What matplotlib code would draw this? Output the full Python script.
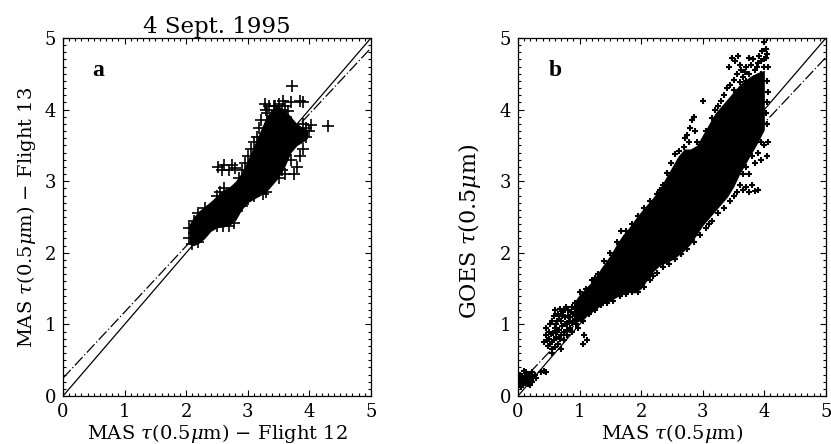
import matplotlib
matplotlib.use("Agg")
import matplotlib.pyplot as plt
from matplotlib.ticker import MultipleLocator

plt.rcParams['font.family'] = ['DejaVu Serif']
plt.rcParams['mathtext.fontset'] = 'dejavuserif'

# ---------------- data: panel a (Flight 12 vs Flight 13) ----------------
a_band_x = [2.05, 2.12, 2.2, 2.3, 2.4, 2.5, 2.6, 2.7, 2.8, 2.9, 3.0, 3.1, 3.2,
            3.3, 3.4, 3.5, 3.6, 3.7, 3.8, 3.9, 3.97]
a_band_lo = [2.12, 2.1, 2.13, 2.2, 2.3, 2.35, 2.36, 2.38, 2.45, 2.6, 2.7, 2.75,
             2.8, 2.85, 2.95, 3.05, 3.2, 3.4, 3.5, 3.55, 3.6]
a_band_hi = [2.4, 2.5, 2.58, 2.65, 2.72, 2.8, 2.88, 2.92, 3.0, 3.12, 3.3, 3.5,
             3.7, 3.9, 4.02, 4.05, 4.0, 3.9, 3.8, 3.75, 3.72]
a_pts_x = [2.05, 2.1, 2.2, 2.05, 2.12, 2.2, 2.3, 2.35, 2.45, 2.5, 2.6, 2.7, 2.78,
           2.5, 2.55, 2.62, 2.52, 2.58, 2.62, 2.7, 2.75, 2.8, 2.85, 2.9, 2.95,
           3.0, 3.05, 3.1, 3.15, 3.18, 3.22, 3.3, 3.35, 3.4, 3.45, 3.5, 3.55,
           3.6, 3.65, 3.7, 3.72, 3.85, 3.9, 3.95, 4.0, 3.9, 4.3, 2.9, 3.0, 3.1,
           3.2, 3.25, 3.3, 3.35, 3.5, 3.55, 3.6, 3.7, 3.75, 3.8, 3.85, 3.9, 3.2,
           3.28, 3.32, 3.42, 3.48, 3.62, 3.68, 3.58, 4.02, 3.95]
a_pts_y = [2.2, 2.12, 2.15, 2.35, 2.45, 2.55, 2.62, 2.55, 2.45, 2.38, 2.38, 2.38, 2.42,
           2.8, 2.85, 2.9, 3.2, 3.15, 3.22, 3.15, 3.22, 3.18, 3.05, 3.15, 3.25,
           3.35, 3.45, 3.55, 3.62, 3.75, 3.85, 4.0, 4.05, 3.9, 4.05, 4.08, 4.0,
           4.05, 3.98, 4.1, 4.33, 4.12, 4.1, 3.75, 3.7, 3.8, 3.77, 2.65, 2.75, 2.8,
           2.9, 2.82, 2.85, 3.0, 3.05, 3.15, 3.1, 3.3, 3.1, 3.2, 3.35, 3.45, 3.0,
           4.08, 3.95, 4.05, 3.98, 3.9, 3.8, 4.12, 3.78, 3.62]
a_fit_intercept, a_fit_slope = 0.25, 0.922

# ---------------- data: panel b (MAS vs GOES) ----------------
b_band_x = [0.9, 1.0, 1.2, 1.4, 1.5, 1.6, 1.7, 1.8, 1.9, 2.0, 2.1, 2.2, 2.3, 2.4,
            2.5, 2.6, 2.7, 2.8, 2.9, 3.0, 3.1, 3.2, 3.3, 3.4, 3.5, 3.6, 3.7,
            3.8, 3.9, 4.0]
b_band_lo = [1.0, 1.05, 1.17, 1.3, 1.33, 1.38, 1.42, 1.45, 1.44, 1.5, 1.62, 1.74,
             1.82, 1.86, 1.9, 1.96, 2.03, 2.12, 2.25, 2.38, 2.48, 2.58, 2.68,
             2.78, 2.92, 3.1, 3.25, 3.4, 3.55, 3.72]
b_band_hi = [1.3, 1.42, 1.6, 1.85, 1.97, 2.12, 2.25, 2.35, 2.47, 2.58, 2.68, 2.78,
             2.9, 3.05, 3.2, 3.35, 3.45, 3.45, 3.5, 3.65, 3.8, 3.95, 4.05, 4.15,
             4.25, 4.35, 4.42, 4.48, 4.52, 4.55]
b_pts = [
    # cluster near origin
    (0.02, 0.18), (0.05, 0.22), (0.08, 0.15), (0.1, 0.25), (0.12, 0.2), (0.15, 0.3),
    (0.18, 0.22), (0.2, 0.28), (0.03, 0.3), (0.07, 0.28), (0.13, 0.33), (0.17, 0.17),
    (0.22, 0.33), (0.25, 0.25), (0.1, 0.35), (0.0, 0.22), (0.05, 0.12), (0.2, 0.15),
    (0.38, 0.33), (0.42, 0.35), (0.45, 0.33), (0.3, 0.25), (0.15, 0.24), (0.08, 0.2),
    (0.02, 0.26), (0.12, 0.28), (0.18, 0.3), (0.23, 0.2), (0.27, 0.3), (0.06, 0.17),
    # low cluster
    (0.42, 0.75), (0.45, 0.85), (0.45, 0.95), (0.48, 0.7), (0.5, 0.8), (0.5, 0.9),
    (0.52, 1.0), (0.55, 0.75), (0.55, 0.65), (0.57, 0.88), (0.58, 1.12), (0.6, 0.95),
    (0.6, 1.2), (0.62, 0.82), (0.63, 1.05), (0.65, 0.72), (0.65, 1.15), (0.67, 0.92),
    (0.68, 1.22), (0.7, 0.85), (0.7, 1.05), (0.72, 0.98), (0.73, 1.18), (0.75, 0.78),
    (0.75, 0.9), (0.77, 1.1), (0.78, 1.25), (0.8, 0.85), (0.8, 1.0), (0.82, 1.2),
    (0.85, 0.95), (0.85, 1.1), (0.88, 1.25), (0.88, 0.9), (0.9, 1.05), (0.92, 1.3),
    (0.95, 1.0), (0.95, 1.18), (0.55, 0.6), (0.6, 0.68), (1.05, 0.72), (1.08, 0.85),
    (1.12, 0.78), (0.7, 0.66), (0.98, 0.95), (0.47, 0.78), (0.53, 0.86), (0.58, 0.78),
    (0.62, 1.0), (0.66, 1.08), (0.68, 0.8), (0.72, 1.12), (0.76, 1.0), (0.79, 0.92),
    (0.83, 1.05), (0.86, 1.18), (0.9, 1.15), (0.93, 1.22), (0.52, 0.72), (0.56, 1.05),
    (0.64, 0.9), (0.74, 1.2), (0.81, 1.12), (0.87, 1.02),
    # speckled top right
    (3.35, 4.2), (3.4, 4.3), (3.45, 4.35), (3.5, 4.28), (3.5, 4.42), (3.55, 4.5),
    (3.6, 4.38), (3.62, 4.55), (3.65, 4.45), (3.7, 4.4), (3.7, 4.6), (3.75, 4.5),
    (3.78, 4.62), (3.8, 4.4), (3.82, 4.7), (3.85, 4.55), (3.88, 4.45), (3.9, 4.65),
    (3.92, 4.75), (3.95, 4.5), (3.97, 4.82), (4.0, 4.6), (4.02, 4.72), (4.03, 4.85),
    (4.05, 4.78), (4.0, 4.95), (4.04, 5.0), (3.42, 4.6), (3.47, 4.72), (3.52, 4.68),
    (3.58, 4.75), (3.75, 4.72), (3.3, 4.12), (3.25, 4.05), (4.05, 4.4), (4.05, 4.1),
    (4.02, 3.95), (3.88, 4.6), (3.94, 4.68), (3.99, 4.7), (4.06, 4.6), (4.06, 4.25),
    (4.04, 3.8), (4.06, 3.55), (3.6, 4.62), (3.68, 4.52),
    # tongue outliers
    (2.75, 3.65), (2.8, 3.75), (2.85, 3.9), (2.88, 3.7), (2.78, 3.55), (2.82, 3.85),
    (3.0, 4.12), (2.72, 3.6),
    # lower / right edge
    (3.6, 2.95), (3.65, 2.88), (3.7, 2.92), (3.75, 2.85), (3.8, 2.95), (3.85, 2.87),
    (3.9, 2.88), (3.55, 2.85), (3.5, 2.8), (3.95, 3.3), (4.05, 3.35), (4.0, 3.5),
    (3.85, 3.25), (3.75, 3.1), (3.45, 2.72), (3.35, 2.62), (3.25, 2.55), (3.15, 2.45),
    (3.05, 2.35), (2.95, 2.25), (2.85, 2.15), (2.75, 2.05), (2.65, 1.98), (2.55, 1.92),
    (2.45, 1.85), (2.35, 1.8), (2.25, 1.72), (2.15, 1.62), (2.05, 1.52), (1.95, 1.45),
    (1.85, 1.45), (1.75, 1.42), (1.65, 1.4), (1.55, 1.33), (1.45, 1.3), (1.35, 1.27),
    (1.25, 1.2), (1.15, 1.15), (1.05, 1.05), (1.95, 1.52), (2.2, 1.68), (3.1, 2.4),
    (3.95, 3.55), (3.9, 3.4), (3.8, 3.35), (3.7, 3.2), (3.65, 3.1),
    # upper edge
    (1.0, 1.45), (1.1, 1.5), (1.2, 1.62), (1.3, 1.7), (1.4, 1.88), (1.5, 2.0),
    (1.6, 2.15), (1.68, 2.3), (1.75, 2.3), (1.85, 2.4), (1.95, 2.52), (2.05, 2.62),
    (2.15, 2.72), (2.25, 2.82), (2.35, 2.95), (2.42, 3.12), (2.48, 3.25), (2.55, 3.38),
    (2.62, 3.42), (2.7, 3.48), (2.9, 3.55), (3.05, 3.7), (3.15, 3.88), (3.2, 4.0),
    (1.25, 1.65), (2.3, 2.88),
]
b_pts_x = [p[0] for p in b_pts]
b_pts_y = [p[1] for p in b_pts]
b_fit_intercept, b_fit_slope = 0.15, 0.916

title = "4 Sept. 1995"
a_xlabel = r"MAS $\tau$(0.5$\mu$m) $-$ Flight 12"
a_ylabel = r"MAS $\tau$(0.5$\mu$m) $-$ Flight 13"
b_xlabel = r"MAS $\tau$(0.5$\mu$m)"
b_ylabel = r"GOES $\tau$(0.5$\mu$m)"
ticks = [0, 1, 2, 3, 4, 5]

fig = plt.figure(figsize=(8.31, 4.44), dpi=100)
axa = fig.add_axes([0.0758, 0.1081, 0.3706, 0.8063])
axb = fig.add_axes([0.6233, 0.1081, 0.3706, 0.8063])


def style(ax):
    ax.set_xlim(0, 5)
    ax.set_ylim(0, 5)
    ax.set_xticks(ticks)
    ax.set_yticks(ticks)
    ax.xaxis.set_minor_locator(MultipleLocator(0.1))
    ax.yaxis.set_minor_locator(MultipleLocator(0.1))
    ax.tick_params(which='both', direction='in', top=True, right=True,
                   width=0.8, colors='black', labelsize=13)
    ax.tick_params(which='major', length=4.5, pad=5)
    ax.tick_params(which='minor', length=2.2)
    for s in ax.spines.values():
        s.set_linewidth(0.9)


lx = [0, 5]

# panel a
style(axa)
axa.plot(lx, lx, color='black', lw=0.9, zorder=1)
axa.plot(lx, [a_fit_intercept + a_fit_slope * v for v in lx], color='black',
         lw=0.9, dashes=(9, 2, 1, 2), zorder=1)
axa.fill_between(a_band_x, a_band_lo, a_band_hi, color='black', lw=0, zorder=2)
axa.plot(a_pts_x, a_pts_y, ls='none', marker='+', ms=8, mew=1.2,
         color='black', zorder=3)
axa.text(0.57, 4.55, 'a', fontsize=17, fontweight='bold',
         family='Liberation Serif', ha='center', va='center')
axa.set_xlabel(a_xlabel, fontsize=14, labelpad=1)
axa.set_ylabel(a_ylabel, fontsize=14, labelpad=5)
axa.set_title(title, fontsize=16.5, pad=3)

# panel b
style(axb)
axb.plot(lx, lx, color='black', lw=0.9, zorder=1)
axb.plot(lx, [b_fit_intercept + b_fit_slope * v for v in lx], color='black',
         lw=0.9, dashes=(9, 2, 1, 2), zorder=1)
axb.fill_between(b_band_x, b_band_lo, b_band_hi, color='black', lw=0, zorder=2)
axb.plot(b_pts_x, b_pts_y, ls='none', marker='+', ms=4.5, mew=1.5,
         color='black', zorder=3)
axb.text(0.6, 4.55, 'b', fontsize=17, fontweight='bold',
         family='Liberation Serif', ha='center', va='center')
axb.set_xlabel(b_xlabel, fontsize=14, labelpad=1)
axb.set_ylabel(b_ylabel, fontsize=16, labelpad=5)
axb.yaxis.set_label_coords(-0.115, 0.46)

fig.savefig('out.png', dpi=100)
